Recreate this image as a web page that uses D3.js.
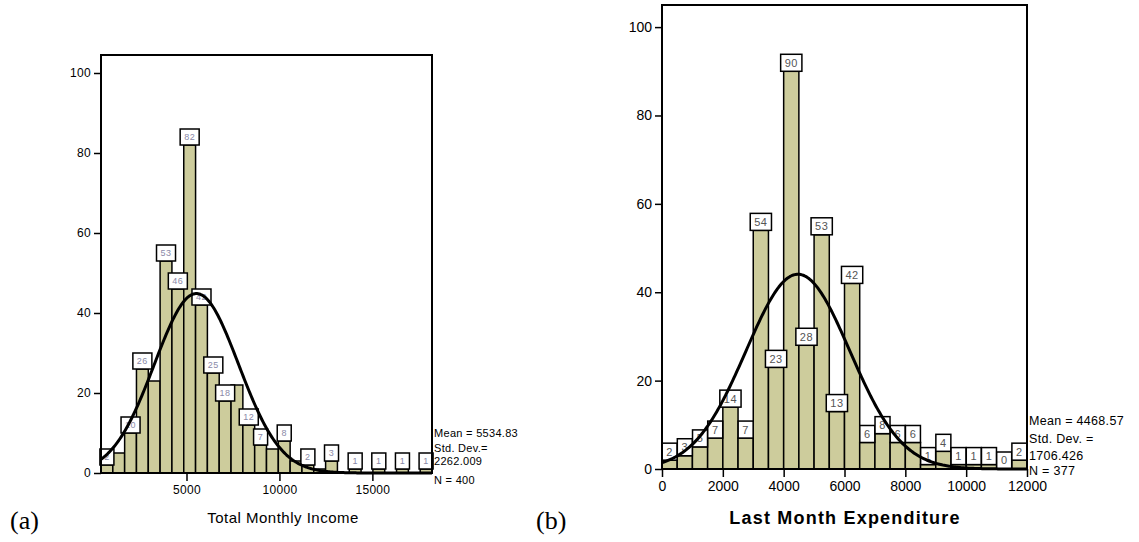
<html>
<head>
<meta charset="utf-8">
<script src="https://cdn.jsdelivr.net/npm/d3@7"></script>
<style>
body { margin: 0; background: #fff; }
.frame { fill: none; stroke: #000; stroke-width: 2; }
.bar { fill: #cdcc9c; stroke: #000; stroke-width: 1.5; }
.lbox { fill: #fff; stroke: #000; stroke-width: 1.5; }
.curve { fill: none; stroke: #000; stroke-width: 3; stroke-linejoin: round; }
.axis path { display: none; }
.axis line { stroke: #000; stroke-width: 1.5; }
.axis text { font-family: Arial, sans-serif; fill: #000; }
.stat { font-family: Arial, sans-serif; fill: #000; }
.tag { font-family: "Liberation Serif", "DejaVu Serif", serif; font-size: 26px; fill: #000; }
</style>
</head>
<body>
<div id="chart"></div>
<script>
// (a) Total Monthly Income, 28 bins
var incomeCounts = [2, 5, 10, 26, 23, 53, 46, 82, 42, 25, 18, 22, 12, 7, 6, 8, 3, 2, 1, 3, 0, 1, 0, 1, 0, 1, 0, 1];
var incomeShown  = [1, 0, 1, 1, 0, 1, 1, 1, 1, 1, 1, 0, 1, 1, 0, 1, 0, 1, 0, 1, 0, 1, 0, 1, 0, 1, 0, 1];
var incomeTicks  = [5000, 10000, 15000];
var incomeStats  = [5534.83, 2262.009, 400];
var incomeStatText = ["Mean = 5534.83", "Std. Dev.=", "2262.009", "N = 400"];

// (b) Last Month Expenditure, 24 bins of 500
var expCounts = [2, 3, 5, 7, 14, 7, 54, 23, 90, 28, 53, 13, 42, 6, 8, 6, 6, 1, 4, 1, 1, 1, 0, 2];
var expShown  = expCounts.map(function() { return 1; });
var expTicks  = [0, 2000, 4000, 6000, 8000, 10000, 12000];
var expStats  = [4468.57, 1706.426, 377];
var expStatText = ["Mean = 4468.57", "Std. Dev. =", "1706.426", "N = 377"];

var yTicks = [0, 20, 40, 60, 80, 100];

var svg = d3.select("#chart").append("svg")
	.attr("width", 1139)
	.attr("height", 542);

function drawHist(o) {
	var g = svg.append("g");
	var n = o.counts.length;
	var x = d3.scaleLinear().domain([o.start, o.start + n * o.width]).range([o.left, o.right]);
	var y = d3.scaleLinear().domain([0, o.ymax]).range([o.bottom, o.top]);

	// bars
	g.selectAll("rect.bar")
		.data(o.counts.map(function(c, i) { return {c: c, i: i}; }).filter(function(d) { return d.c > 0; }))
		.enter().append("rect")
		.attr("class", "bar")
		.attr("x", function(d) { return x(o.start + d.i * o.width); })
		.attr("width", function(d) { return x(o.start + (d.i + 1) * o.width) - x(o.start + d.i * o.width); })
		.attr("y", function(d) { return y(d.c); })
		.attr("height", function(d) { return y(0) - y(d.c); });

	// value labels
	o.counts.forEach(function(c, i) {
		if (!o.shown[i]) return;
		var cx = x(o.start + (i + 0.5) * o.width);
		var lg = g.append("g");
		var box = lg.append("rect").attr("class", "lbox");
		var t = lg.append("text")
			.attr("x", cx)
			.attr("y", y(c) - o.lh / 2)
			.attr("dy", "0.36em")
			.attr("text-anchor", "middle")
			.style("font-family", "Arial, sans-serif")
			.style("font-size", o.lfont + "px")
			.style("letter-spacing", "0.5px")
			.style("fill", o.lcolor)
			.text(c);
		var w = Math.max(t.node().getComputedTextLength() + 8, o.lminw);
		box.attr("x", cx - w / 2).attr("y", y(c) - o.lh).attr("width", w).attr("height", o.lh);
	});

	// normal curve
	var peak = o.stats[2] * o.width / (o.stats[1] * Math.sqrt(2 * Math.PI));
	var pts = d3.range(o.start, o.start + n * o.width + 1, (n * o.width) / 300);
	var line = d3.line()
		.x(function(v) { return x(v); })
		.y(function(v) { var z = (v - o.stats[0]) / o.stats[1]; return y(peak * Math.exp(-0.5 * z * z)); });
	g.append("path").attr("class", "curve").attr("d", line(pts));

	// frame
	g.append("rect").attr("class", "frame")
		.attr("x", o.left).attr("y", o.top)
		.attr("width", o.right - o.left).attr("height", o.bottom - o.top);

	// axes
	var ya = g.append("g").attr("class", "axis")
		.attr("transform", "translate(" + o.left + ",0)")
		.call(d3.axisLeft(y).tickValues(yTicks).tickSize(7).tickPadding(3));
	ya.selectAll("text").style("font-size", o.tfont + "px").style("letter-spacing", o.tspace);

	var xa = g.append("g").attr("class", "axis")
		.attr("transform", "translate(0," + o.bottom + ")")
		.call(d3.axisBottom(x).tickValues(o.ticks).tickFormat(d3.format("d")).tickSize(8).tickPadding(4));
	xa.selectAll("text").style("font-size", o.tfont + "px").style("letter-spacing", o.tspace);

	// axis title
	g.append("text")
		.attr("x", o.titleX).attr("y", o.titleY)
		.attr("text-anchor", "middle")
		.style("font-family", "Arial, sans-serif")
		.style("font-size", o.titleFont + "px")
		.style("font-weight", o.titleWeight)
		.style("letter-spacing", o.titleSpace)
		.text(o.title);

	// statistics
	o.statText.forEach(function(s, i) {
		g.append("text").attr("class", "stat")
			.attr("x", o.right + 2)
			.attr("y", o.statY[i])
			.attr("dy", "0.35em")
			.style("font-size", o.sfont + "px")
			.style("letter-spacing", o.sspace)
			.text(s);
	});
}

drawHist({
	counts: incomeCounts, shown: incomeShown, start: 400, width: 636,
	ymax: 104.5, left: 101, right: 432, top: 55, bottom: 473,
	ticks: incomeTicks, stats: incomeStats, statText: incomeStatText,
	statY: [433, 448, 461, 480],
	lh: 16, lminw: 14, lfont: 9, lcolor: "#8a8aa8",
	tfont: 12, tspace: "0.3px",
	title: "Total Monthly Income", titleX: 283, titleY: 523, titleFont: 15, titleWeight: "normal", titleSpace: "0.5px",
	sfont: 11, sspace: "0.3px"
});

drawHist({
	counts: expCounts, shown: expShown, start: 0, width: 500,
	ymax: 105, left: 662, right: 1027, top: 5, bottom: 469,
	ticks: expTicks, stats: expStats, statText: expStatText,
	statY: [421, 439, 456, 471],
	lh: 17, lminw: 15, lfont: 11, lcolor: "#555",
	tfont: 14, tspace: "0px",
	title: "Last Month Expenditure", titleX: 845, titleY: 524, titleFont: 18, titleWeight: "bold", titleSpace: "1.2px",
	sfont: 12.5, sspace: "0.3px"
});

svg.append("text").attr("class", "tag").attr("x", 10).attr("y", 529).text("(a)");
svg.append("text").attr("class", "tag").attr("x", 536).attr("y", 529).text("(b)");
</script>
</body>
</html>
